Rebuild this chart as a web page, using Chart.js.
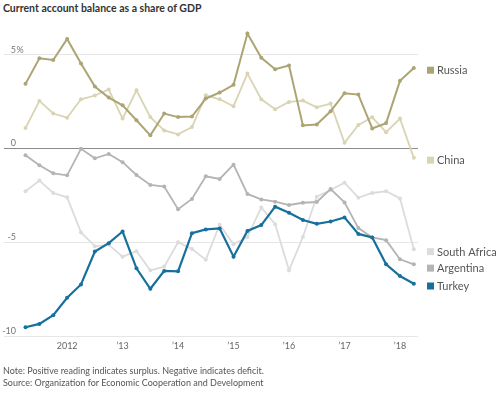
<!DOCTYPE html>
<html><head><meta charset="utf-8">
<script src="https://cdn.jsdelivr.net/npm/chart.js@4.4.1/dist/chart.umd.min.js"></script>
<style>
body{margin:0;width:500px;height:394px;overflow:hidden;background:#fff;position:relative;font-family:Lato,sans-serif}
#title{position:absolute;left:3px;top:0.5px;font-weight:bold;font-size:10.5px;line-height:14px;color:#333;white-space:nowrap}
.note{position:absolute;left:3px;font-size:9px;line-height:12.5px;color:#555;white-space:nowrap}
canvas{position:absolute;left:0;top:0}
</style></head><body>
<div id="title">Current account balance as a share of GDP</div>
<canvas id="c" width="500" height="394"></canvas>
<div class="note" style="top:364.5px">Note: Positive reading indicates surplus. Negative indicates deficit.</div>
<div class="note" style="top:377px">Source: Organization for Economic Cooperation and Development</div>
<script>
const quarters = ['2011 Q2','2011 Q3','2011 Q4','2012 Q1','2012 Q2','2012 Q3','2012 Q4','2013 Q1','2013 Q2','2013 Q3','2013 Q4','2014 Q1','2014 Q2','2014 Q3','2014 Q4','2015 Q1','2015 Q2','2015 Q3','2015 Q4','2016 Q1','2016 Q2','2016 Q3','2016 Q4','2017 Q1','2017 Q2','2017 Q3','2017 Q4','2018 Q1','2018 Q2'];
const russia = [3.44,4.80,4.71,5.83,4.53,3.30,2.71,2.30,1.50,0.70,1.86,1.67,1.70,2.66,2.98,3.39,6.12,4.83,4.22,4.42,1.23,1.28,1.98,2.94,2.87,1.07,1.35,3.60,4.29];
const china = [1.09,2.53,1.86,1.64,2.62,2.82,3.14,1.59,3.10,1.67,0.96,0.75,1.14,2.83,2.62,2.25,3.99,2.62,2.09,2.48,2.55,2.19,2.39,0.30,1.25,1.66,0.87,1.59,-0.50];
const southAfrica = [-2.28,-1.71,-2.37,-2.60,-4.47,-5.20,-5.13,-5.76,-5.47,-6.49,-6.29,-4.99,-5.35,-5.92,-4.06,-5.10,-4.71,-3.14,-4.03,-6.49,-4.71,-2.57,-2.21,-1.82,-2.62,-2.37,-2.28,-2.66,-5.37];
const argentina = [-0.36,-0.89,-1.32,-1.43,-0.02,-0.52,-0.29,-0.73,-1.41,-1.94,-2.03,-3.23,-2.69,-1.48,-1.62,-0.86,-2.42,-2.71,-2.83,-3.01,-2.89,-2.85,-2.16,-2.87,-4.24,-4.74,-4.88,-5.90,-6.17];
const turkey = [-9.52,-9.34,-8.88,-7.95,-7.24,-5.49,-5.04,-4.42,-6.38,-7.47,-6.52,-6.54,-4.51,-4.31,-4.26,-5.76,-4.39,-4.08,-3.10,-3.42,-3.81,-4.01,-3.89,-3.67,-4.55,-4.74,-6.17,-6.79,-7.20];
const yTickValues = [5,0,-5,-10];
const yTickLabels = ['5','0','-5','-10'];
const xTickYears = [2012,2013,2014,2015,2016,2017,2018];
const xTickLabels = ['2012','\u201913','\u201914','\u201915','\u201916','\u201917','\u201918'];

const qx = quarters.map(q => { const [y, qq] = q.split(' Q'); return +y + (+qq - 1) / 4; });
const pts = arr => arr.map((v, i) => ({x: qx[i], y: v}));

const series = [
  {label:'Russia', data:russia, color:'#ada474', width:2, order:1},
  {label:'China', data:china, color:'#d9d4b3', width:1.8, order:3},
  {label:'South Africa', data:southAfrica, color:'#dcdcdc', width:1.8, order:4},
  {label:'Argentina', data:argentina, color:'#b4b4b4', width:1.8, order:2},
  {label:'Turkey', data:turkey, color:'#17709c', width:2.2, order:0}
];

const overlay = {
  id:'overlay',
  afterDraw(chart){
    const ctx = chart.ctx, ys = chart.scales.y, area = chart.chartArea;
    ctx.save();
    ctx.font = '9px Lato';
    ctx.fillStyle = '#777';
    ctx.textBaseline = 'alphabetic';
    yTickValues.forEach((v, i) => {
      const y = ys.getPixelForValue(v) - 2;
      ctx.textAlign = 'right';
      ctx.fillText(yTickLabels[i], area.left + 12, y);
      if (v === 5) { ctx.textAlign = 'left'; ctx.fillText('%', area.left + 12.5, y); }
    });
    const items = chart.data.datasets.map(d => ({label:d.label, color:d.borderColor, y: ys.getPixelForValue(d.data[d.data.length-1].y) + 2.3}));
    items.sort((a,b) => a.y - b.y);
    for (let i = 1; i < items.length; i++) if (items[i].y - items[i-1].y < 16.5) items[i].y = items[i-1].y + 16.5;
    ctx.font = '11px Lato';
    ctx.textAlign = 'left';
    ctx.textBaseline = 'middle';
    items.forEach(it => {
      ctx.fillStyle = it.color;
      ctx.fillRect(427, it.y - 3.5, 7, 7);
      ctx.fillStyle = '#555';
      ctx.fillText(it.label, 437, it.y + 0.5);
    });
    ctx.restore();
  }
};

new Chart(document.getElementById('c'), {
  type:'line',
  data:{datasets: series.map(s => ({
    label:s.label, data:pts(s.data), borderColor:s.color, backgroundColor:s.color,
    borderWidth:s.width, pointRadius:2, pointBorderWidth:0, pointBackgroundColor:s.color,
    tension:0, order:s.order
  }))},
  options:{
    responsive:false, animation:false, devicePixelRatio:1,
    layout:{padding:{left:3, right:82, top:17, bottom:42.7}},
    plugins:{legend:{display:false}, tooltip:{enabled:false}},
    scales:{
      x:{type:'linear', min:2010.862, max:2018.325,
        afterBuildTicks: s => { s.ticks = xTickYears.map(v => ({value:v})); },
        afterFit: s => { s.height = 15; },
        grid:{display:false, drawTicks:false}, border:{display:false},
        ticks:{padding:4, color:'#666', font:{family:'Lato', size:9},
          callback:(v) => xTickLabels[xTickYears.indexOf(v)] ?? ''}},
      y:{type:'linear', min:-10, max:7,
        afterBuildTicks: s => { s.ticks = yTickValues.map(v => ({value:v})); },
        afterFit: s => { s.width = 0; },
        border:{display:false},
        grid:{drawTicks:false, color: c => c.tick.value === 0 ? '#8c8c8c' : '#e6e6e6', lineWidth:1},
        ticks:{display:false}}
    }
  },
  plugins:[overlay]
});
</script>
</body></html>
